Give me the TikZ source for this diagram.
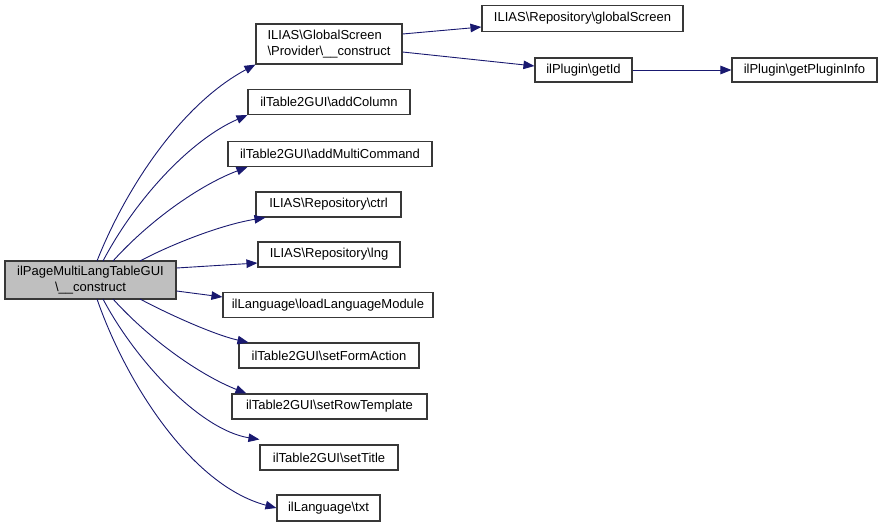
\documentclass[tikz,border=0pt]{standalone}
\usepackage{fontspec}
\setmainfont{Liberation Sans}
\usetikzlibrary{arrows.meta}
\definecolor{edgec}{HTML}{191970}
\definecolor{mainfill}{HTML}{BFBFBF}
\tikzset{
  box/.style={draw=black!78, line width=1.1pt, fill=white, inner sep=0pt, font=\fontsize{13}{16}\selectfont, align=center},
  conn/.style={draw=edgec, line width=0.9pt, -{Triangle[length=11pt,width=8.5pt]}},
}
\newcommand{\bs}{\textbackslash}
\begin{document}
\begin{tikzpicture}[x=1pt,y=-1pt]
\useasboundingbox (0,0) rectangle (881,527);
\node[box, fill=mainfill, minimum width=171pt, minimum height=38pt] (main) at (90.5,280) {ilPageMultiLangTableGUI\\\bs\_\_construct};
\node[box, minimum width=146pt, minimum height=40pt, align=left] (gsp) at (329,44) {ILIAS\bs GlobalScreen\\\bs Provider\bs\_\_construct};
\node[box, minimum width=162pt, minimum height=25pt] (addc) at (329,102) {ilTable2GUI\bs addColumn};
\node[box, minimum width=204pt, minimum height=25pt] (addm) at (330,154) {ilTable2GUI\bs addMultiCommand};
\node[box, minimum width=145pt, minimum height=25pt] (ctrl) at (328.5,204.5) {ILIAS\bs Repository\bs ctrl};
\node[box, minimum width=142pt, minimum height=25pt] (lng) at (329,254.5) {ILIAS\bs Repository\bs lng};
\node[box, minimum width=210pt, minimum height=25pt] (llm) at (328,305) {ilLanguage\bs loadLanguageModule};
\node[box, minimum width=180pt, minimum height=25pt] (sfa) at (329,355.5) {ilTable2GUI\bs setFormAction};
\node[box, minimum width=195pt, minimum height=25pt] (srt) at (329.5,406.5) {ilTable2GUI\bs setRowTemplate};
\node[box, minimum width=138pt, minimum height=25pt] (stt) at (329,457.5) {ilTable2GUI\bs setTitle};
\node[box, minimum width=103pt, minimum height=26pt] (txt) at (328.5,508) {ilLanguage\bs txt};
\node[box, minimum width=201pt, minimum height=26pt] (rgs) at (582.5,18.5) {ILIAS\bs Repository\bs globalScreen};
\node[box, minimum width=97pt, minimum height=24pt] (gid) at (583.5,70) {ilPlugin\bs getId};
\node[box, minimum width=145pt, minimum height=24pt] (gpi) at (804.5,70) {ilPlugin\bs getPluginInfo};

\draw[conn] (97,261) .. controls (125,190) and (180,105) .. (gsp.south west);
\draw[conn] (103,261) .. controls (135,200) and (190,140) .. (addc.south west);
\draw[conn] (113,261) .. controls (150,220) and (200,185) .. ([xshift=20pt]addm.south west);
\draw[conn] (140,261) .. controls (170,245) and (220,225) .. ([xshift=10pt]ctrl.south west);
\draw[conn] (main.east|-0,268) -- (lng.west|-0,263);
\draw[conn] (main.east|-0,291) -- (llm.west|-0,297);
\draw[conn] (140,299) .. controls (170,315) and (215,335) .. ([xshift=10pt]sfa.north west);
\draw[conn] (113,299) .. controls (150,340) and (200,375) .. ([xshift=15pt]srt.north west);
\draw[conn] (103,299) .. controls (135,360) and (200,430) .. ([yshift=5pt]stt.north west);
\draw[conn] (97,299) .. controls (125,380) and (190,485) .. (txt.west);

\draw[conn] (gsp.east|-0,34) -- (rgs.west|-0,27);
\draw[conn] (gsp.east|-0,52) -- (gid.west|-0,66);
\draw[conn] (gid) -- (gpi);
\end{tikzpicture}
\end{document}
